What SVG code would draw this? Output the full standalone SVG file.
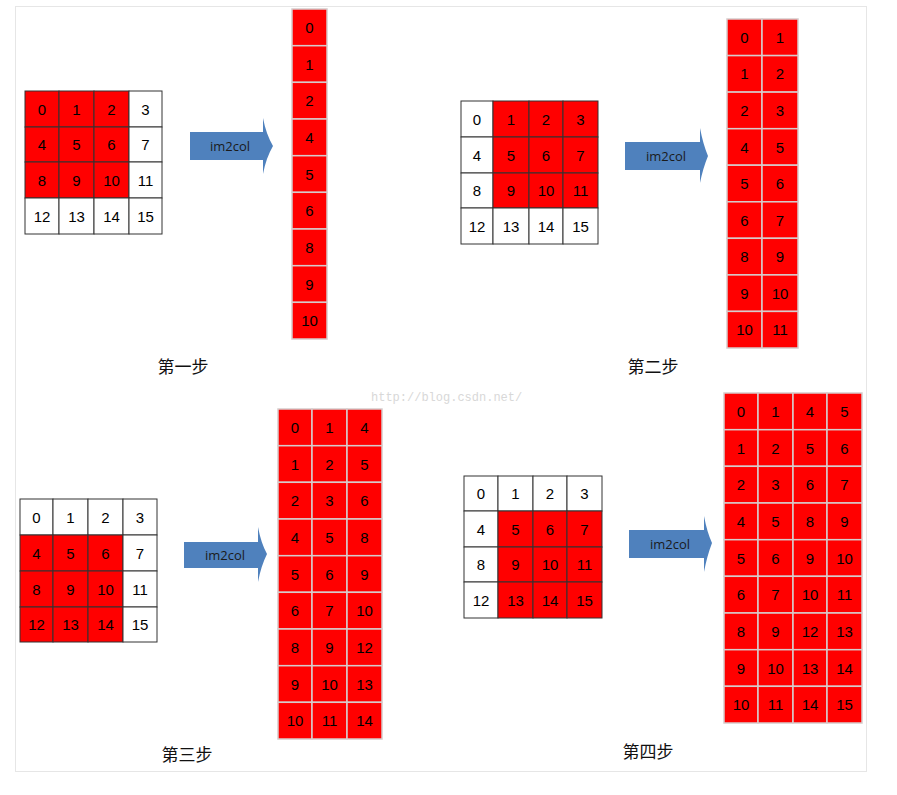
<svg xmlns="http://www.w3.org/2000/svg" width="897" height="795" viewBox="0 0 897 795">
<style>
.g{stroke:#333;stroke-width:1}
.r{fill:#ff0000}
.w{fill:#ffffff}
.c{fill:#ff0000;stroke:#d6cccc;stroke-width:1.5}
.t{font-family:"Liberation Sans","Open Sans",sans-serif;font-size:15px;fill:#000;text-anchor:middle;dominant-baseline:central}
.a{fill:#4f81bd}
.at{font-family:"Open Sans","Liberation Sans",sans-serif;font-size:13px;fill:#1b1b1b;text-anchor:middle;dominant-baseline:central}
.lb{font-family:"Noto Sans CJK SC",serif;font-size:17px;fill:#111;text-anchor:middle;dominant-baseline:central}
</style>
<rect x="0" y="0" width="897" height="795" fill="#fff"/>
<rect x="15.5" y="6.5" width="851" height="765" fill="#fff" stroke="#e6e6e6"/>
<text x="371" y="401" font-family="Liberation Mono,monospace" font-size="12" fill="#d8d8d8">http://blog.csdn.net/</text>

<!-- Panel 1 grid -->
<g id="grid1">
<rect class="g r" x="25" y="91" width="34" height="36"/><rect class="g r" x="59" y="91" width="35" height="36"/><rect class="g r" x="94" y="91" width="35" height="36"/><rect class="g w" x="129" y="91" width="33" height="36"/>
<rect class="g r" x="25" y="127" width="34" height="35"/><rect class="g r" x="59" y="127" width="35" height="35"/><rect class="g r" x="94" y="127" width="35" height="35"/><rect class="g w" x="129" y="127" width="33" height="35"/>
<rect class="g r" x="25" y="162" width="34" height="36"/><rect class="g r" x="59" y="162" width="35" height="36"/><rect class="g r" x="94" y="162" width="35" height="36"/><rect class="g w" x="129" y="162" width="33" height="36"/>
<rect class="g w" x="25" y="198" width="34" height="36"/><rect class="g w" x="59" y="198" width="35" height="36"/><rect class="g w" x="94" y="198" width="35" height="36"/><rect class="g w" x="129" y="198" width="33" height="36"/>
<text class="t" x="42" y="109">0</text><text class="t" x="76.5" y="109">1</text><text class="t" x="111.5" y="109">2</text><text class="t" x="145.5" y="109">3</text>
<text class="t" x="42" y="144.5">4</text><text class="t" x="76.5" y="144.5">5</text><text class="t" x="111.5" y="144.5">6</text><text class="t" x="145.5" y="144.5">7</text>
<text class="t" x="42" y="180">8</text><text class="t" x="76.5" y="180">9</text><text class="t" x="111.5" y="180">10</text><text class="t" x="145.5" y="180">11</text>
<text class="t" x="42" y="216">12</text><text class="t" x="76.5" y="216">13</text><text class="t" x="111.5" y="216">14</text><text class="t" x="145.5" y="216">15</text>
</g>

<!-- Panel 1 column -->
<g id="col1">
<rect class="c" x="292" y="9" width="35" height="36.7"/><rect class="c" x="292" y="45.7" width="35" height="36.7"/><rect class="c" x="292" y="82.3" width="35" height="36.7"/>
<rect class="c" x="292" y="119" width="35" height="36.7"/><rect class="c" x="292" y="155.7" width="35" height="36.7"/><rect class="c" x="292" y="192.3" width="35" height="36.7"/>
<rect class="c" x="292" y="229" width="35" height="36.7"/><rect class="c" x="292" y="265.7" width="35" height="36.7"/><rect class="c" x="292" y="302.3" width="35" height="36.7"/>
<text class="t" x="309.5" y="27.3">0</text><text class="t" x="309.5" y="64">1</text><text class="t" x="309.5" y="100.6">2</text>
<text class="t" x="309.5" y="137.3">4</text><text class="t" x="309.5" y="174">5</text><text class="t" x="309.5" y="210.6">6</text>
<text class="t" x="309.5" y="247.3">8</text><text class="t" x="309.5" y="284">9</text><text class="t" x="309.5" y="320.6">10</text>
</g>
<text id="label1" class="lb" x="183" y="365">第一步</text>

<!-- Panel 2 grid -->
<g id="grid2">
<rect class="g w" x="461" y="101" width="32" height="36"/><rect class="g r" x="493" y="101" width="36" height="36"/><rect class="g r" x="529" y="101" width="34" height="36"/><rect class="g r" x="563" y="101" width="35" height="36"/>
<rect class="g w" x="461" y="137" width="32" height="36"/><rect class="g r" x="493" y="137" width="36" height="36"/><rect class="g r" x="529" y="137" width="34" height="36"/><rect class="g r" x="563" y="137" width="35" height="36"/>
<rect class="g w" x="461" y="173" width="32" height="35"/><rect class="g r" x="493" y="173" width="36" height="35"/><rect class="g r" x="529" y="173" width="34" height="35"/><rect class="g r" x="563" y="173" width="35" height="35"/>
<rect class="g w" x="461" y="208" width="32" height="36"/><rect class="g w" x="493" y="208" width="36" height="36"/><rect class="g w" x="529" y="208" width="34" height="36"/><rect class="g w" x="563" y="208" width="35" height="36"/>
<text class="t" x="477" y="119">0</text><text class="t" x="511" y="119">1</text><text class="t" x="546" y="119">2</text><text class="t" x="580.5" y="119">3</text>
<text class="t" x="477" y="155">4</text><text class="t" x="511" y="155">5</text><text class="t" x="546" y="155">6</text><text class="t" x="580.5" y="155">7</text>
<text class="t" x="477" y="190.5">8</text><text class="t" x="511" y="190.5">9</text><text class="t" x="546" y="190.5">10</text><text class="t" x="580.5" y="190.5">11</text>
<text class="t" x="477" y="226">12</text><text class="t" x="511" y="226">13</text><text class="t" x="546" y="226">14</text><text class="t" x="580.5" y="226">15</text>
</g>

<!-- Panel 2 column -->
<g id="col2">
<rect class="c" x="727" y="19" width="35" height="36.6"/><rect class="c" x="762" y="19" width="36" height="36.6"/>
<rect class="c" x="727" y="55.6" width="35" height="36.5"/><rect class="c" x="762" y="55.6" width="36" height="36.5"/>
<rect class="c" x="727" y="92.1" width="35" height="36.6"/><rect class="c" x="762" y="92.1" width="36" height="36.6"/>
<rect class="c" x="727" y="128.7" width="35" height="36.5"/><rect class="c" x="762" y="128.7" width="36" height="36.5"/>
<rect class="c" x="727" y="165.2" width="35" height="36.6"/><rect class="c" x="762" y="165.2" width="36" height="36.6"/>
<rect class="c" x="727" y="201.8" width="35" height="36.5"/><rect class="c" x="762" y="201.8" width="36" height="36.5"/>
<rect class="c" x="727" y="238.3" width="35" height="36.6"/><rect class="c" x="762" y="238.3" width="36" height="36.6"/>
<rect class="c" x="727" y="274.9" width="35" height="36.5"/><rect class="c" x="762" y="274.9" width="36" height="36.5"/>
<rect class="c" x="727" y="311.4" width="35" height="36.6"/><rect class="c" x="762" y="311.4" width="36" height="36.6"/>
<text class="t" x="744.5" y="37.3">0</text><text class="t" x="780" y="37.3">1</text>
<text class="t" x="744.5" y="73.9">1</text><text class="t" x="780" y="73.9">2</text>
<text class="t" x="744.5" y="110.4">2</text><text class="t" x="780" y="110.4">3</text>
<text class="t" x="744.5" y="147">4</text><text class="t" x="780" y="147">5</text>
<text class="t" x="744.5" y="183.5">5</text><text class="t" x="780" y="183.5">6</text>
<text class="t" x="744.5" y="220.1">6</text><text class="t" x="780" y="220.1">7</text>
<text class="t" x="744.5" y="256.6">8</text><text class="t" x="780" y="256.6">9</text>
<text class="t" x="744.5" y="293.2">9</text><text class="t" x="780" y="293.2">10</text>
<text class="t" x="744.5" y="329.7">10</text><text class="t" x="780" y="329.7">11</text>
</g>
<text id="label2" class="lb" x="653" y="365">第二步</text>

<!-- Panel 3 grid -->
<g id="grid3">
<rect class="g w" x="20" y="499" width="33" height="36"/><rect class="g w" x="53" y="499" width="35" height="36"/><rect class="g w" x="88" y="499" width="35" height="36"/><rect class="g w" x="123" y="499" width="34" height="36"/>
<rect class="g r" x="20" y="535" width="33" height="36"/><rect class="g r" x="53" y="535" width="35" height="36"/><rect class="g r" x="88" y="535" width="35" height="36"/><rect class="g w" x="123" y="535" width="34" height="36"/>
<rect class="g r" x="20" y="571" width="33" height="36"/><rect class="g r" x="53" y="571" width="35" height="36"/><rect class="g r" x="88" y="571" width="35" height="36"/><rect class="g w" x="123" y="571" width="34" height="36"/>
<rect class="g r" x="20" y="607" width="33" height="35"/><rect class="g r" x="53" y="607" width="35" height="35"/><rect class="g r" x="88" y="607" width="35" height="35"/><rect class="g w" x="123" y="607" width="34" height="35"/>
<text class="t" x="36.5" y="517">0</text><text class="t" x="70.5" y="517">1</text><text class="t" x="105.5" y="517">2</text><text class="t" x="140" y="517">3</text>
<text class="t" x="36.5" y="553">4</text><text class="t" x="70.5" y="553">5</text><text class="t" x="105.5" y="553">6</text><text class="t" x="140" y="553">7</text>
<text class="t" x="36.5" y="589">8</text><text class="t" x="70.5" y="589">9</text><text class="t" x="105.5" y="589">10</text><text class="t" x="140" y="589">11</text>
<text class="t" x="36.5" y="624.5">12</text><text class="t" x="70.5" y="624.5">13</text><text class="t" x="105.5" y="624.5">14</text><text class="t" x="140" y="624.5">15</text>
</g>

<!-- Panel 3 column -->
<g id="col3">
<rect class="c" x="278" y="409" width="34" height="36.7"/><rect class="c" x="312" y="409" width="35" height="36.7"/><rect class="c" x="347" y="409" width="35" height="36.7"/>
<rect class="c" x="278" y="445.7" width="34" height="36.6"/><rect class="c" x="312" y="445.7" width="35" height="36.6"/><rect class="c" x="347" y="445.7" width="35" height="36.6"/>
<rect class="c" x="278" y="482.3" width="34" height="36.7"/><rect class="c" x="312" y="482.3" width="35" height="36.7"/><rect class="c" x="347" y="482.3" width="35" height="36.7"/>
<rect class="c" x="278" y="519" width="34" height="36.7"/><rect class="c" x="312" y="519" width="35" height="36.7"/><rect class="c" x="347" y="519" width="35" height="36.7"/>
<rect class="c" x="278" y="555.7" width="34" height="36.6"/><rect class="c" x="312" y="555.7" width="35" height="36.6"/><rect class="c" x="347" y="555.7" width="35" height="36.6"/>
<rect class="c" x="278" y="592.3" width="34" height="36.7"/><rect class="c" x="312" y="592.3" width="35" height="36.7"/><rect class="c" x="347" y="592.3" width="35" height="36.7"/>
<rect class="c" x="278" y="629" width="34" height="36.7"/><rect class="c" x="312" y="629" width="35" height="36.7"/><rect class="c" x="347" y="629" width="35" height="36.7"/>
<rect class="c" x="278" y="665.7" width="34" height="36.6"/><rect class="c" x="312" y="665.7" width="35" height="36.6"/><rect class="c" x="347" y="665.7" width="35" height="36.6"/>
<rect class="c" x="278" y="702.3" width="34" height="36.7"/><rect class="c" x="312" y="702.3" width="35" height="36.7"/><rect class="c" x="347" y="702.3" width="35" height="36.7"/>
<text class="t" x="295" y="427.3">0</text><text class="t" x="329.5" y="427.3">1</text><text class="t" x="364.5" y="427.3">4</text>
<text class="t" x="295" y="464">1</text><text class="t" x="329.5" y="464">2</text><text class="t" x="364.5" y="464">5</text>
<text class="t" x="295" y="500.6">2</text><text class="t" x="329.5" y="500.6">3</text><text class="t" x="364.5" y="500.6">6</text>
<text class="t" x="295" y="537.3">4</text><text class="t" x="329.5" y="537.3">5</text><text class="t" x="364.5" y="537.3">8</text>
<text class="t" x="295" y="574">5</text><text class="t" x="329.5" y="574">6</text><text class="t" x="364.5" y="574">9</text>
<text class="t" x="295" y="610.6">6</text><text class="t" x="329.5" y="610.6">7</text><text class="t" x="364.5" y="610.6">10</text>
<text class="t" x="295" y="647.3">8</text><text class="t" x="329.5" y="647.3">9</text><text class="t" x="364.5" y="647.3">12</text>
<text class="t" x="295" y="684">9</text><text class="t" x="329.5" y="684">10</text><text class="t" x="364.5" y="684">13</text>
<text class="t" x="295" y="720.6">10</text><text class="t" x="329.5" y="720.6">11</text><text class="t" x="364.5" y="720.6">14</text>
</g>
<text id="label3" class="lb" x="187" y="753">第三步</text>

<!-- Panel 4 grid -->
<g id="grid4">
<rect class="g w" x="464" y="476" width="34" height="35"/><rect class="g w" x="498" y="476" width="35" height="35"/><rect class="g w" x="533" y="476" width="34" height="35"/><rect class="g w" x="567" y="476" width="35" height="35"/>
<rect class="g w" x="464" y="511" width="34" height="36"/><rect class="g r" x="498" y="511" width="35" height="36"/><rect class="g r" x="533" y="511" width="34" height="36"/><rect class="g r" x="567" y="511" width="35" height="36"/>
<rect class="g w" x="464" y="547" width="34" height="35"/><rect class="g r" x="498" y="547" width="35" height="35"/><rect class="g r" x="533" y="547" width="34" height="35"/><rect class="g r" x="567" y="547" width="35" height="35"/>
<rect class="g w" x="464" y="582" width="34" height="36"/><rect class="g r" x="498" y="582" width="35" height="36"/><rect class="g r" x="533" y="582" width="34" height="36"/><rect class="g r" x="567" y="582" width="35" height="36"/>
<text class="t" x="481" y="493.5">0</text><text class="t" x="515.5" y="493.5">1</text><text class="t" x="550" y="493.5">2</text><text class="t" x="584.5" y="493.5">3</text>
<text class="t" x="481" y="529">4</text><text class="t" x="515.5" y="529">5</text><text class="t" x="550" y="529">6</text><text class="t" x="584.5" y="529">7</text>
<text class="t" x="481" y="564.5">8</text><text class="t" x="515.5" y="564.5">9</text><text class="t" x="550" y="564.5">10</text><text class="t" x="584.5" y="564.5">11</text>
<text class="t" x="481" y="600">12</text><text class="t" x="515.5" y="600">13</text><text class="t" x="550" y="600">14</text><text class="t" x="584.5" y="600">15</text>
</g>

<!-- Panel 4 column -->
<g id="col4">
<rect class="c" x="724" y="393" width="34" height="36.7"/><rect class="c" x="758" y="393" width="35" height="36.7"/><rect class="c" x="793" y="393" width="34" height="36.7"/><rect class="c" x="827" y="393" width="35" height="36.7"/>
<rect class="c" x="724" y="429.7" width="34" height="36.6"/><rect class="c" x="758" y="429.7" width="35" height="36.6"/><rect class="c" x="793" y="429.7" width="34" height="36.6"/><rect class="c" x="827" y="429.7" width="35" height="36.6"/>
<rect class="c" x="724" y="466.3" width="34" height="36.7"/><rect class="c" x="758" y="466.3" width="35" height="36.7"/><rect class="c" x="793" y="466.3" width="34" height="36.7"/><rect class="c" x="827" y="466.3" width="35" height="36.7"/>
<rect class="c" x="724" y="503" width="34" height="36.7"/><rect class="c" x="758" y="503" width="35" height="36.7"/><rect class="c" x="793" y="503" width="34" height="36.7"/><rect class="c" x="827" y="503" width="35" height="36.7"/>
<rect class="c" x="724" y="539.7" width="34" height="36.6"/><rect class="c" x="758" y="539.7" width="35" height="36.6"/><rect class="c" x="793" y="539.7" width="34" height="36.6"/><rect class="c" x="827" y="539.7" width="35" height="36.6"/>
<rect class="c" x="724" y="576.3" width="34" height="36.7"/><rect class="c" x="758" y="576.3" width="35" height="36.7"/><rect class="c" x="793" y="576.3" width="34" height="36.7"/><rect class="c" x="827" y="576.3" width="35" height="36.7"/>
<rect class="c" x="724" y="613" width="34" height="36.7"/><rect class="c" x="758" y="613" width="35" height="36.7"/><rect class="c" x="793" y="613" width="34" height="36.7"/><rect class="c" x="827" y="613" width="35" height="36.7"/>
<rect class="c" x="724" y="649.7" width="34" height="36.6"/><rect class="c" x="758" y="649.7" width="35" height="36.6"/><rect class="c" x="793" y="649.7" width="34" height="36.6"/><rect class="c" x="827" y="649.7" width="35" height="36.6"/>
<rect class="c" x="724" y="686.3" width="34" height="36.7"/><rect class="c" x="758" y="686.3" width="35" height="36.7"/><rect class="c" x="793" y="686.3" width="34" height="36.7"/><rect class="c" x="827" y="686.3" width="35" height="36.7"/>
<text class="t" x="741" y="411.3">0</text><text class="t" x="775.5" y="411.3">1</text><text class="t" x="810" y="411.3">4</text><text class="t" x="844.5" y="411.3">5</text>
<text class="t" x="741" y="448">1</text><text class="t" x="775.5" y="448">2</text><text class="t" x="810" y="448">5</text><text class="t" x="844.5" y="448">6</text>
<text class="t" x="741" y="484.6">2</text><text class="t" x="775.5" y="484.6">3</text><text class="t" x="810" y="484.6">6</text><text class="t" x="844.5" y="484.6">7</text>
<text class="t" x="741" y="521.3">4</text><text class="t" x="775.5" y="521.3">5</text><text class="t" x="810" y="521.3">8</text><text class="t" x="844.5" y="521.3">9</text>
<text class="t" x="741" y="558">5</text><text class="t" x="775.5" y="558">6</text><text class="t" x="810" y="558">9</text><text class="t" x="844.5" y="558">10</text>
<text class="t" x="741" y="594.6">6</text><text class="t" x="775.5" y="594.6">7</text><text class="t" x="810" y="594.6">10</text><text class="t" x="844.5" y="594.6">11</text>
<text class="t" x="741" y="631.3">8</text><text class="t" x="775.5" y="631.3">9</text><text class="t" x="810" y="631.3">12</text><text class="t" x="844.5" y="631.3">13</text>
<text class="t" x="741" y="668">9</text><text class="t" x="775.5" y="668">10</text><text class="t" x="810" y="668">13</text><text class="t" x="844.5" y="668">14</text>
<text class="t" x="741" y="704.6">10</text><text class="t" x="775.5" y="704.6">11</text><text class="t" x="810" y="704.6">14</text><text class="t" x="844.5" y="704.6">15</text>
</g>
<text id="label4" class="lb" x="648" y="750">第四步</text>

<!-- Connectors: im2col block arrows -->
<g id="connectors">
<g id="arrow1"><path class="a" d="M190,132 H263 V118 Q266,134 273,146 Q266,158 263,174 V160 H190 Z"/><text class="at" x="230" y="146">im2col</text></g>
<g id="arrow2"><path class="a" d="M625,142 H700 V128 Q703,144 708,156 Q703,168 700,183 V170 H625 Z"/><text class="at" x="666" y="156">im2col</text></g>
<g id="arrow3"><path class="a" d="M184,542 H258 V527 Q261,543 267,554 Q261,566 258,582 V568 H184 Z"/><text class="at" x="225" y="555">im2col</text></g>
<g id="arrow4"><path class="a" d="M629,530 H704 V516 Q707,532 712,543 Q707,556 704,572 V558 H629 Z"/><text class="at" x="670" y="544">im2col</text></g>
</g>
</svg>
